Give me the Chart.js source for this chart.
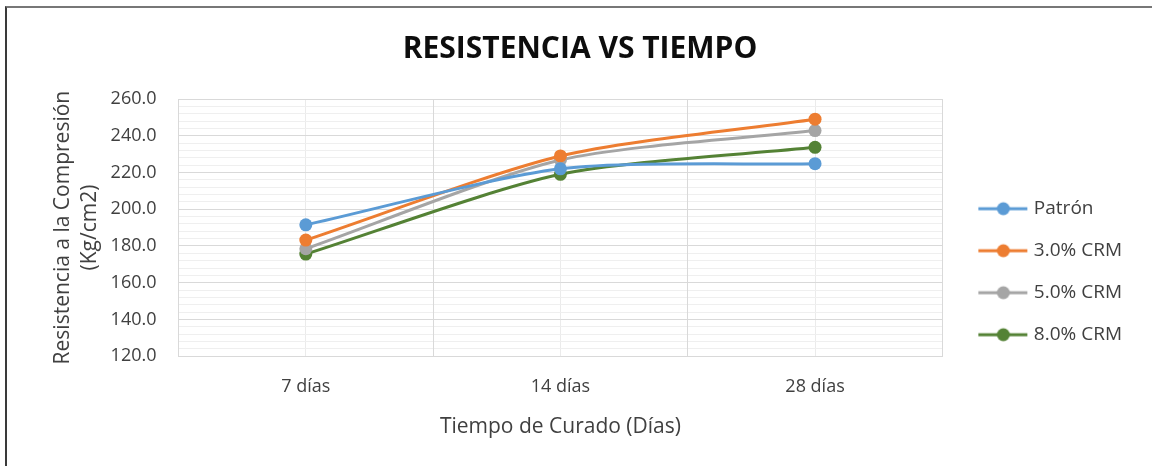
<!DOCTYPE html>
<html>
<head>
<meta charset="utf-8">
<script src="https://cdn.jsdelivr.net/npm/chart.js@4/dist/chart.umd.min.js"></script>
<style>
  html, body { margin: 0; padding: 0; background: #fff; }
  #wrap { position: relative; width: 1152px; height: 466px; overflow: hidden; }
  #cv { position: absolute; left: 0; top: 0; }
  #frame {
    position: absolute; left: 5px; top: 6px; width: 1145px; height: 470px;
    border-left: 2px solid #3a3a3a; border-top: 2px solid #777; border-right: 1px solid #e2e2e2;
    pointer-events: none;
  }
</style>
</head>
<body>
<div id="wrap">
  <canvas id="cv" width="1152" height="466"></canvas>
  <div id="frame"></div>
</div>
<script>
// values
const labels = ['7 días', '14 días', '28 días']
const patron = [191.5, 222.0, 224.8]
const crm3 = [183.2, 229.0, 249.0]
const crm5 = [178.5, 226.8, 242.8]
const crm8 = [175.6, 219.0, 233.7]
const seriesNames = ['Patrón', '3.0% CRM', '5.0% CRM', '8.0% CRM']
const seriesColors = ['#5b9bd5', '#ed7d31', '#a5a5a5', '#548235']
const Y_MIN = 120
const Y_MAX = 260
const Y_MAJOR = 20
const Y_MINOR = 4

const FONT = "'Open Sans', sans-serif"
const TEXT = '#404040'

/**
 * Legend marker: a short line with a dot, like the Excel legend
 */
function makeMarker(color) {
  const c = document.createElement('canvas')
  c.width = 67
  c.height = 16
  const g = c.getContext('2d')
  g.strokeStyle = color
  g.lineWidth = 3
  g.beginPath()
  g.moveTo(17, 8)
  g.lineTo(66, 8)
  g.stroke()
  g.fillStyle = color
  g.beginPath()
  g.arc(42, 8, 6.5, 0, Math.PI * 2)
  g.fill()
  return c
}
const markers = seriesColors.map(makeMarker)

function makeSet(i, data) {
  return {
    label: seriesNames[i],
    data: data,
    xAxisID: 'x',
    yAxisID: 'y',
    borderColor: seriesColors[i],
    backgroundColor: seriesColors[i],
    borderWidth: 3,
    pointRadius: 6.5,
    pointBorderWidth: 0,
    pointHoverRadius: 6.5,
    tension: 0.25,
    fill: false
  }
}

const isMajor = v => Math.abs(v % Y_MAJOR) < 1e-6

const chart = new Chart(document.getElementById('cv').getContext('2d'), {
  type: 'line',
  data: {
    labels: labels,
    datasets: [makeSet(0, patron), makeSet(1, crm3), makeSet(2, crm5), makeSet(3, crm8)]
  },
  options: {
    responsive: false,
    animation: false,
    devicePixelRatio: 1,
    layout: { padding: { left: 28, right: 20, top: 6, bottom: 26 } },
    plugins: {
      title: {
        display: true,
        text: 'RESISTENCIA VS TIEMPO',
        color: '#0d0d0d',
        font: { family: FONT, size: 30, weight: 'bold' },
        padding: { top: 25, bottom: 32 }
      },
      legend: {
        position: 'right',
        align: 'center',
        // empty title only pushes the items down to where Excel put them
        title: { display: true, text: '', padding: { top: 83, bottom: 0 } },
        labels: {
          color: TEXT,
          font: { family: FONT, size: 19 },
          usePointStyle: true,
          pointStyleWidth: 59,
          padding: 23,
          generateLabels: (c) => {
            const items = Chart.defaults.plugins.legend.labels.generateLabels(c)
            items.forEach(it => { it.pointStyle = markers[it.datasetIndex] })
            return items
          }
        }
      },
      tooltip: { enabled: false }
    },
    scales: {
      y: {
        type: 'linear',
        position: 'left',
        min: Y_MIN,
        max: Y_MAX,
        ticks: {
          stepSize: Y_MINOR,
          autoSkip: false,
          color: TEXT,
          padding: 22,
          font: { family: FONT, size: 18 },
          callback: v => isMajor(v) ? v.toFixed(1) : ''
        },
        grid: {
          color: c => isMajor(c.tick.value) ? '#d9d9d9' : '#efefef',
          lineWidth: 1,
          drawTicks: false
        },
        border: { color: '#d9d9d9' },
        title: {
          display: true,
          text: ['Resistencia a la Compresión', '(Kg/cm2)'],
          color: TEXT,
          font: { family: FONT, size: 21, lineHeight: 1.3 },
          padding: { top: 21, bottom: -15 }
        }
      },
      x: {
        type: 'category',
        position: 'bottom',
        offset: true,
        ticks: { color: TEXT, padding: 20, font: { family: FONT, size: 18 } },
        grid: { offset: true, color: '#d9d9d9', drawTicks: false },
        border: { color: '#d9d9d9' },
        title: {
          display: true,
          text: 'Tiempo de Curado (Días)',
          color: TEXT,
          font: { family: FONT, size: 21 },
          padding: { top: -3, bottom: 0 }
        }
      },
      xMinor: {
        type: 'category',
        axis: 'x',
        position: 'bottom',
        offset: true,
        ticks: { display: false },
        grid: { offset: false, color: '#ebebeb', drawTicks: false, z: -2 },
        border: { display: false }
      }
    }
  }
})
</script>
</body>
</html>
